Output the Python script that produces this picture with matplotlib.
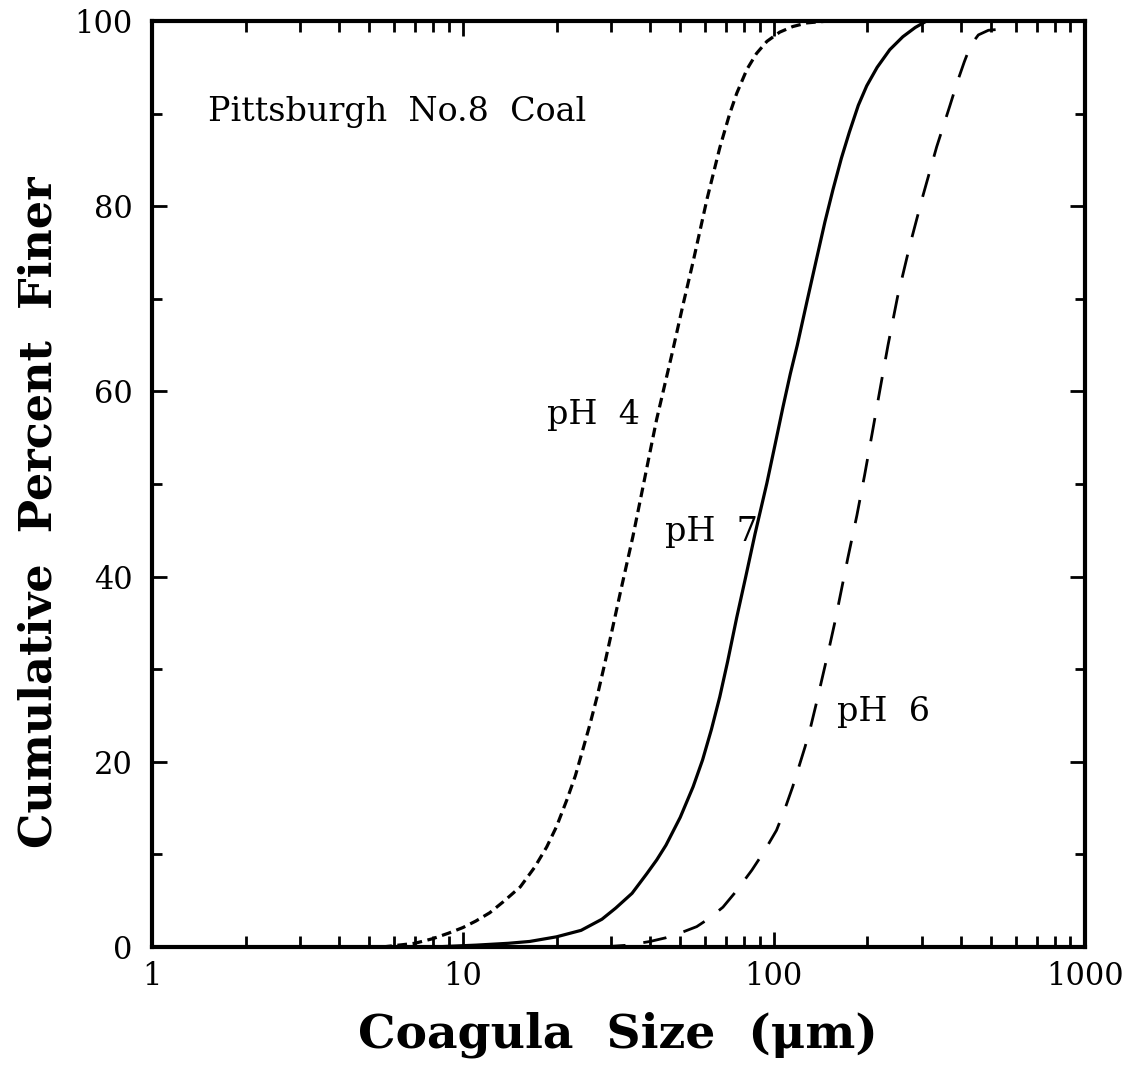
import matplotlib
matplotlib.use("Agg")
import matplotlib.pyplot as plt
from matplotlib.ticker import LogLocator, FixedLocator, NullFormatter, FixedFormatter

# ---- data ----
ph4_x = [5.5, 7, 8, 9, 10, 11, 12.2, 13.5, 15.3, 17, 18.6, 20, 21.6, 23, 24.3, 25.6,
         27, 28.5, 30, 32, 35.2, 37.9, 40, 42, 47, 51, 55, 61, 67, 72, 76, 82, 88,
         95, 104.5, 115, 128, 150]
ph4_y = [0, 0.4, 0.9, 1.5, 2.1, 2.8, 3.7, 4.9, 6.5, 8.6, 10.8, 13.0, 15.9, 18.5, 21.3,
         24.0, 27.0, 30.4, 33.8, 38.1, 44.3, 49.6, 53.5, 57.0, 64.0, 69.3, 74.0, 80.8,
         86.3, 89.9, 92.2, 94.8, 96.5, 97.8, 98.8, 99.4, 99.8, 100]

ph7_x = [8, 11, 14, 16.4, 20, 24, 28, 31, 35, 39, 42, 45, 50, 55, 59, 63, 67, 71,
         76, 81, 87, 95, 101, 107, 113, 119, 128, 137, 146, 155, 165, 175, 187, 199,
         215, 236, 260, 285, 310]
ph7_y = [0, 0.2, 0.4, 0.6, 1.1, 1.8, 3.0, 4.2, 5.8, 7.9, 9.4, 11.0, 14.0, 17.3, 20.2,
         23.5, 27.0, 30.8, 35.6, 39.8, 44.6, 50.1, 54.3, 58.3, 61.9, 65.0, 69.8, 74.2,
         78.3, 81.8, 85.2, 88.0, 90.9, 93.0, 95.0, 96.9, 98.3, 99.3, 100]

ph6_x = [28, 34, 40, 45, 49, 56.5, 62, 68.6, 76, 85, 93, 102, 108, 115, 120, 126, 131,
         137, 143, 150, 157, 163, 173, 185, 196, 207, 219, 233, 250, 274, 301, 334,
         368, 390, 410, 430, 455, 490, 530]
ph6_y = [0, 0.2, 0.6, 1.0, 1.4, 2.2, 3.1, 4.3, 6.1, 8.3, 10.3, 12.6, 14.7, 17.3, 19.3,
         21.6, 23.6, 26.3, 29.0, 32.0, 35.0, 37.7, 42.0, 46.6, 51.0, 55.4, 60.0, 65.0,
         70.2, 75.8, 81.0, 86.4, 90.8, 93.5, 95.6, 97.4, 98.5, 99.0, 99.1]

x_ticks = [1, 10, 100, 1000]
x_tick_labels = ["1", "10", "100", "1000"]
y_ticks = [0, 20, 40, 60, 80, 100]
y_tick_labels = ["0", "20", "40", "60", "80", "100"]

plt.rcParams['font.family'] = ['DejaVu Serif']
plt.rcParams['lines.scale_dashes'] = False

fig = plt.figure(figsize=(11.43, 10.72), dpi=100)
ax = fig.add_axes([0.133, 0.1166, 0.816, 0.8638])

ax.plot(ph4_x, ph4_y, color='black', lw=2.3, dashes=(7, 4))
ax.plot(ph7_x, ph7_y, color='black', lw=2.3)
ax.plot(ph6_x, ph6_y, color='black', lw=2.0, dashes=(17, 13))

ax.set_xscale('log')
ax.set_xlim(1, 1000)
ax.set_ylim(0, 100)

ax.xaxis.set_major_locator(FixedLocator(x_ticks))
ax.xaxis.set_major_formatter(FixedFormatter(x_tick_labels))
ax.xaxis.set_minor_locator(LogLocator(base=10, subs=range(2, 10)))
ax.xaxis.set_minor_formatter(NullFormatter())
ax.yaxis.set_major_locator(FixedLocator(y_ticks))
ax.yaxis.set_major_formatter(FixedFormatter(y_tick_labels))
ax.yaxis.set_minor_locator(FixedLocator([10, 30, 50, 70, 90]))

for s in ax.spines.values():
    s.set_linewidth(3.0)

ax.tick_params(axis='both', which='both', direction='in', top=True, right=True,
               width=2.0, labelsize=22)
ax.tick_params(axis='x', which='major', length=11, pad=10)
ax.tick_params(axis='x', which='minor', length=8)
ax.tick_params(axis='y', which='major', length=11, pad=14)
ax.tick_params(axis='y', which='minor', length=7)

ax.set_xlabel("Coagula  Size  (μm)", fontsize=34, fontweight='bold', labelpad=14)
ax.set_ylabel("Cumulative  Percent  Finer", fontsize=32, fontweight='bold')
ax.yaxis.set_label_coords(-0.098, 0.47)

ax.text(1.51, 90.2, "Pittsburgh  No.8  Coal", fontsize=24, va='center', ha='left')
ax.text(18.6, 57.5, "pH  4", fontsize=24, va='center', ha='left')
ax.text(44.8, 44.8, "pH  7", fontsize=24, va='center', ha='left')
ax.text(159.5, 25.4, "pH  6", fontsize=24, va='center', ha='left')

fig.savefig("out.png", dpi=100, facecolor='white')
